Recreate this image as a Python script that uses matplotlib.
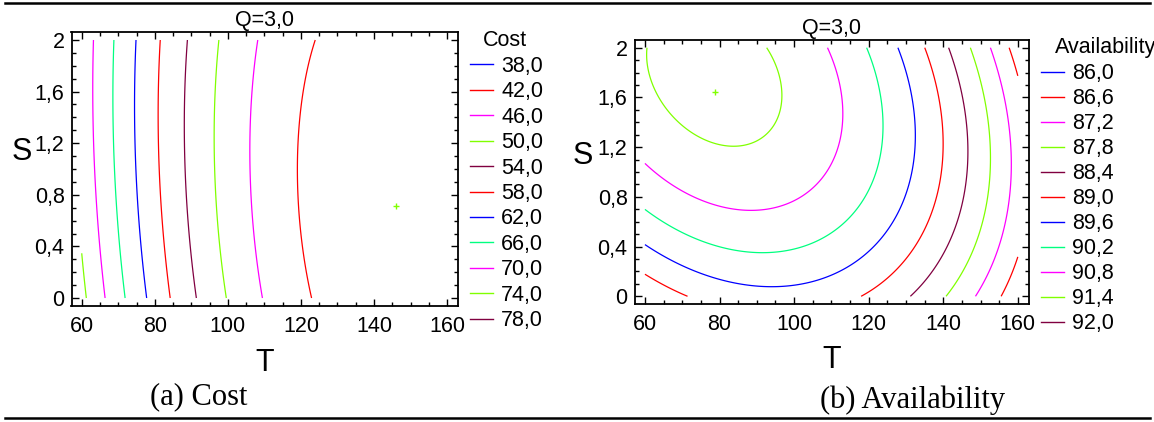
import numpy as np
import matplotlib
matplotlib.use('Agg')
import matplotlib.pyplot as plt
from matplotlib.lines import Line2D
from matplotlib.ticker import MultipleLocator, FuncFormatter

plt.rcParams['font.family'] = ['Liberation Sans', 'DejaVu Sans']

# --- Fitted response surfaces (Q = 3,0)
# z = b0 + bT*T + bS*S + bTT*T^2 + bSS*S^2 + bTS*T*S
cost_coef = [140.43, -1.3662, -4.604, 0.0046, 0.9915, 0.02208]
avail_coef = [82.596, 0.143944, 3.7947, -0.00076, -0.76225, -0.013756]

# contour levels shown in each legend
cost_levels = [38.0, 42.0, 46.0, 50.0, 54.0, 58.0, 62.0, 66.0, 70.0, 74.0, 78.0]
avail_levels = [86.0, 86.6, 87.2, 87.8, 88.4, 89.0, 89.6, 90.2, 90.8, 91.4, 92.0]

# optimum markers
cost_opt = (145.9, 0.71)
avail_opt = (78.7, 1.64)

# factor ranges
T_range = (60, 160)
S_range = (0, 2)

level_colors = ['#0000ff', '#ff0000', '#ff00ff', '#80ff00', '#800040', '#ff0000',
                '#0000ff', '#00ff80', '#ff00ff', '#80ff00', '#800040']

FS = 15.5
W, H = 1154, 422

comma = FuncFormatter(lambda v, p: ('%g' % round(v, 2)).replace('.', ','))


def surface(coef, T, S):
    b0, bT, bS, bTT, bSS, bTS = coef
    return b0 + bT * T + bS * S + bTT * T ** 2 + bSS * S ** 2 + bTS * T * S


def draw_panel(ax, coef, levels, opt):
    T, S = np.meshgrid(np.linspace(*T_range, 401), np.linspace(*S_range, 201))
    Z = surface(coef, T, S)
    ax.contour(T, S, Z, levels=levels, colors=level_colors, linewidths=0.9)
    ax.plot(*opt, marker='+', color='#80ff00', ms=5, mew=1)

    ax.set_xlim(57.2, 163)
    ax.set_ylim(-0.062, 2.062)
    ax.xaxis.set_major_locator(MultipleLocator(20))
    ax.xaxis.set_minor_locator(MultipleLocator(5))
    ax.yaxis.set_major_locator(MultipleLocator(0.4))
    ax.yaxis.set_minor_locator(MultipleLocator(0.1))
    ax.yaxis.set_major_formatter(comma)
    ax.tick_params(which='both', direction='in', top=True, right=True,
                   labelsize=FS, width=1)
    ax.tick_params(which='major', length=5)
    ax.tick_params(which='minor', length=3)
    ax.tick_params(axis='x', pad=7)
    ax.tick_params(axis='y', pad=5)
    for sp in ax.spines.values():
        sp.set_linewidth(1.3)
    ax.set_title('Q=3,0', fontsize=FS, pad=4)


def add_legend(fig, ax, levels, title, x, y, title_x, title_y, spacing):
    handles = [Line2D([], [], color=c, lw=1.0) for c in level_colors]
    labels = [('%.1f' % v).replace('.', ',') for v in levels]
    ax.legend(handles, labels, loc='upper left', bbox_to_anchor=(x, y),
              bbox_transform=fig.transFigure, frameon=False, fontsize=FS,
              handlelength=1.05, handletextpad=0.4, labelspacing=spacing,
              borderpad=0, borderaxespad=0)
    fig.text(title_x, title_y, title, fontsize=FS, va='center', ha='left')


fig = plt.figure(figsize=(11.54, 4.22), dpi=100)

ax1 = fig.add_axes([71.5 / W, 1 - 306 / H, 386.5 / W, 274 / H])
ax2 = fig.add_axes([634.5 / W, 1 - 304 / H, 394.5 / W, 264 / H])

draw_panel(ax1, cost_coef, cost_levels, cost_opt)
draw_panel(ax2, avail_coef, avail_levels, avail_opt)

ax1.set_xlabel('T', fontsize=22, va='center')
ax1.xaxis.set_label_coords(0.5006, -0.208)
ax1.set_ylabel('S', fontsize=22, rotation=0, va='center', ha='center')
ax1.yaxis.set_label_coords(-0.128, 0.562)

ax2.set_xlabel('T', fontsize=22, va='center')
ax2.xaxis.set_label_coords(0.499, -0.212)
ax2.set_ylabel('S', fontsize=22, rotation=0, va='center', ha='center')
ax2.yaxis.set_label_coords(-0.131, 0.56)

add_legend(fig, ax1, cost_levels, 'Cost', 470 / W, 1 - 56 / H,
           483 / W, 1 - 40 / H, 0.205)
add_legend(fig, ax2, avail_levels, 'Availability', 1041 / W, 1 - 63.5 / H,
           1055 / W, 1 - 47.5 / H, 0.185)

# captions and table rules
fig.text(199 / W, 1 - 397 / H, '(a) Cost', family='Liberation Serif',
         fontsize=22, ha='center', va='center')
fig.text(913 / W, 1 - 400 / H, '(b) Availability', family='Liberation Serif',
         fontsize=22, ha='center', va='center')
fig.add_artist(Line2D([5 / W, 1150 / W], [1 - 3 / H, 1 - 3 / H], color='black', lw=1.8))
fig.add_artist(Line2D([5 / W, 1150 / W], [1 - 418 / H, 1 - 418 / H], color='black', lw=1.8))

fig.savefig('out.png', dpi=100)
